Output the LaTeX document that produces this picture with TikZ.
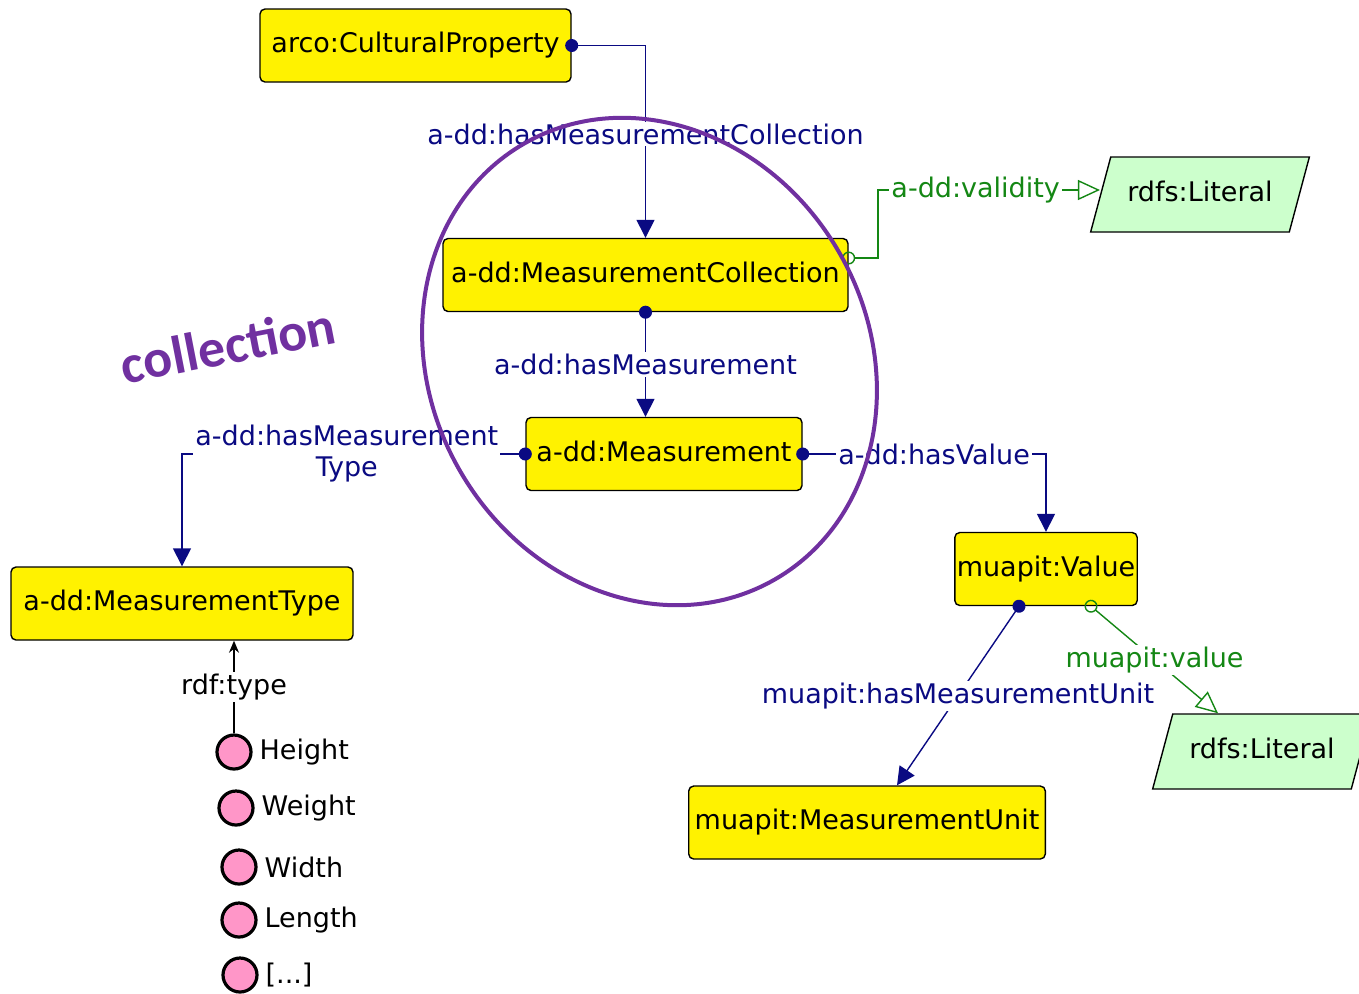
\documentclass[tikz,border=0pt]{standalone}
\usepackage{fontspec}
\setmainfont{DejaVu Sans}
\newfontfamily\notefont{Carlito}
\usetikzlibrary{arrows.meta}
\usetikzlibrary{shapes.geometric}
\definecolor{propblue}{RGB}{10,10,130}
\definecolor{propgreen}{RGB}{20,135,20}
\definecolor{litgreen}{RGB}{204,255,204}
\definecolor{indivpink}{RGB}{255,150,200}
\definecolor{ringpurple}{RGB}{112,48,160}
\newcommand{\diagfont}{\fontsize{13.5}{15.5}\selectfont}
\tikzset{cls/.style={draw, fill=yellow, line width=0.7pt, rounded corners=2.5pt, minimum height=36.5pt, inner xsep=3pt, text height=10pt, text depth=3pt, font=\diagfont}}
\tikzset{lit/.style={draw, fill=litgreen, line width=0.7pt, trapezium, trapezium left angle=75, trapezium right angle=105, inner xsep=8.3pt, inner ysep=12.25pt, text height=10pt, text depth=3pt, font=\diagfont}}
\tikzset{indiv/.style={circle, draw, line width=1.6pt, fill=indivpink, minimum size=17pt, inner sep=0pt}}
\tikzset{objprop/.style={propblue, line width=0.7pt, {Circle[length=6.5pt]}-{Triangle[length=9pt,width=9pt]}, shorten <=-3.25pt}}
\tikzset{dataprop/.style={propgreen, line width=0.7pt, {Circle[open,length=6.5pt]}-{Triangle[open,length=11pt,width=10pt]}, shorten <=-3.25pt}}
\tikzset{proplbl/.style={fill=white, inner sep=1pt, text=propblue, font=\diagfont}}
\tikzset{datalbl/.style={fill=white, inner sep=1pt, text=propgreen, font=\diagfont}}

\begin{document}
\begin{tikzpicture}[x=0.5pt, y=-0.5pt]
    \useasboundingbox (0,0) rectangle (1359,993);

    \node[cls, minimum width=155.5pt] (cp) at (415.5,45.5) {arco:CulturalProperty};
    \node[cls, minimum width=202.5pt] (mc) at (645.5,275) {a-dd:MeasurementCollection};
    \node[cls, minimum width=138pt] (m) at (664,454) {a-dd:Measurement};
    \node[cls, minimum width=171pt] (mt) at (182,603.5) {a-dd:MeasurementType};
    \node[cls, inner xsep=1pt] (v) at (1046,569) {muapit:Value};
    \node[cls, minimum width=177pt] (mu) at (867,822.5) {muapit:MeasurementUnit};
    \node[lit] (lit1) at (1200,194.5) {rdfs:Literal};
    \node[lit] (lit2) at (1262,751.5) {rdfs:Literal};
    \coordinate (vbend) at (878,190);

    \node[indiv, label={[font=\diagfont]right:Height}] (height) at (234,752) {};
    \node[indiv, label={[font=\diagfont]right:Weight}] (weight) at (236,808) {};
    \node[indiv, label={[font=\diagfont]right:Width}] (width) at (239,867) {};
    \node[indiv, label={[font=\diagfont]right:Length}] (length) at (239,920) {};
    \node[indiv, label={[font=\diagfont]right:[...]}] (more) at (240,975) {};

    \draw[objprop] (cp.east) -| node[proplbl, pos=0.73] {a-dd:hasMeasurementCollection} (mc.north);
    \draw[objprop] (mc.south) -- node[proplbl] {a-dd:hasMeasurement} (mc.south |- m.north);
    \draw[objprop] (m.west) -| node[proplbl, pos=0.26, align=center] {a-dd:hasMeasurement\\Type} (mt.north);
    \draw[objprop] (m.east) -| node[proplbl, pos=0.27] {a-dd:hasValue} (v.north);
    \draw[objprop] ([xshift=-13.5pt]v.south) -- node[proplbl] {muapit:hasMeasurementUnit} ([xshift=15pt]mu.north);
    \draw[dataprop] ([yshift=8.5pt]mc.east) -| (vbend) -- node[datalbl, pos=0.44] {a-dd:validity} (lit1.west |- vbend);
    \draw[dataprop] ([xshift=22.5pt]v.south) -- node[datalbl] {muapit:value} ([xshift=-22pt]lit2.north);
    \draw[line width=0.6pt, -{Stealth[length=6pt,width=5pt]}] (height.north) -- node[fill=white, inner sep=1pt, font=\diagfont] {rdf:type} (height.north |- mt.south);

    \draw[ringpurple, line width=2pt, rotate around={30:(649.5,361.5)}] (649.5,361.5) ellipse (109.4pt and 125.7pt);
    \node[rotate=11, text=ringpurple, font=\notefont\bfseries\fontsize{27}{30}\selectfont] (note) at (228,345) {collection};
\end{tikzpicture}
\end{document}
